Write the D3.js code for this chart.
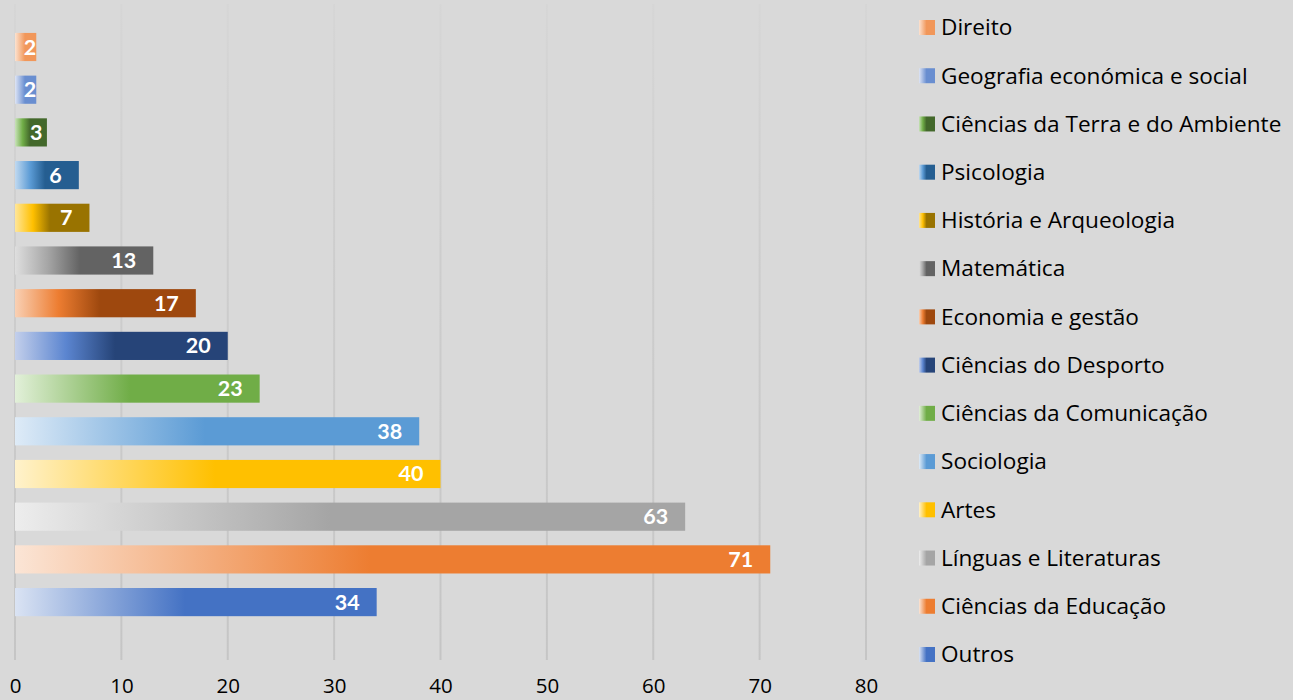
<!DOCTYPE html>
<html>
<head>
<meta charset="utf-8">
<script src="https://cdn.jsdelivr.net/npm/d3@7"></script>
<style>
  html, body { margin: 0; padding: 0; background: #d9d9d9; }
  svg { display: block; font-family: "Open Sans", Lato, sans-serif; }
</style>
</head>
<body>
<svg id="chart" width="1293" height="700"></svg>
<script>
// ---- data (bottom to top as drawn) ----
const categories = ["Outros", "Ciências da Educação", "Línguas e Literaturas", "Artes", "Sociologia",
  "Ciências da Comunicação", "Ciências do Desporto", "Economia e gestão", "Matemática",
  "História e Arqueologia", "Psicologia", "Ciências da Terra e do Ambiente",
  "Geografia económica e social", "Direito"];
const values = [34, 71, 63, 40, 38, 23, 20, 17, 13, 7, 6, 3, 2, 2];
const xTicks = [0, 10, 20, 30, 40, 50, 60, 70, 80];

// gradient stops per category: [light start, (mid accent), final colour]
const gradients = [
  ["#dae3f3", "#4472c4"],
  ["#fbe5d6", "#ed7d31"],
  ["#ededed", "#a5a5a5"],
  ["#fff2cc", "#ffc000"],
  ["#deebf7", "#5b9bd5"],
  ["#e2f0d9", "#70ad47"],
  ["#c3cfeb", "#5b85d0", "#264478"],
  ["#f9d0b4", "#ed7d31", "#9e480e"],
  ["#dedede", "#a5a5a5", "#636363"],
  ["#ffe699", "#ffc000", "#997300"],
  ["#c0d9f0", "#5b9bd5", "#255e91"],
  ["#c8e2b8", "#70ad47", "#43682b"],
  ["#dde4f5", "#698ed0"],
  ["#fce2d0", "#f1975a"]
];

const svg = d3.select("#chart");
const W = 1293, H = 700;
svg.append("rect").attr("width", W).attr("height", H).attr("fill", "#d9d9d9");

const defs = svg.append("defs");
gradients.forEach((g, i) => {
  const lg = defs.append("linearGradient").attr("id", "g" + i)
    .attr("x1", "0%").attr("x2", "100%").attr("y1", "0%").attr("y2", "0%");
  if (g.length === 2) {
    lg.append("stop").attr("offset", "0%").attr("stop-color", g[0]);
    lg.append("stop").attr("offset", "47%").attr("stop-color", g[1]);
    lg.append("stop").attr("offset", "100%").attr("stop-color", g[1]);
  } else {
    lg.append("stop").attr("offset", "0%").attr("stop-color", g[0]);
    lg.append("stop").attr("offset", "24%").attr("stop-color", g[1]);
    lg.append("stop").attr("offset", "47%").attr("stop-color", g[2]);
    lg.append("stop").attr("offset", "100%").attr("stop-color", g[2]);
  }
});
const gridGrad = defs.append("linearGradient").attr("id", "gridGrad")
  .attr("gradientUnits", "userSpaceOnUse")
  .attr("x1", 0).attr("x2", 0).attr("y1", 0).attr("y2", 660);
gridGrad.append("stop").attr("offset", "0%").attr("stop-color", "#d6d6d6");
gridGrad.append("stop").attr("offset", "40%").attr("stop-color", "#cdcdcd");
gridGrad.append("stop").attr("offset", "100%").attr("stop-color", "#c5c5c5");

const x = d3.scaleLinear().domain([0, 80]).range([15, 866]);
const y = d3.scaleBand().domain(categories.slice().reverse()).range([18.4, 630.7]).padding(0.34);

// gridlines
svg.append("g").selectAll("line").data(xTicks).join("line")
  .attr("x1", d => x(d)).attr("x2", d => x(d))
  .attr("y1", 4).attr("y2", 660)
  .attr("stroke", "url(#gridGrad)").attr("stroke-width", 2);

// bars
const data = categories.map((c, i) => ({ c, v: values[i], i }));
svg.append("g").selectAll("rect").data(data).join("rect")
  .attr("x", x(0))
  .attr("y", d => y(d.c))
  .attr("width", d => x(d.v) - x(0))
  .attr("height", y.bandwidth())
  .attr("fill", d => `url(#g${d.i})`);

// labels
svg.append("g").selectAll("text").data(data).join("text")
  .attr("x", d => {
    const w = x(d.v) - x(0);
    const gap = Math.min(17, Math.max(0, (w - 22) * 0.45));
    return x(d.v) - gap;
  })
  .attr("y", d => y(d.c) + y.bandwidth() / 2 + 7.5)
  .attr("text-anchor", "end")
  .attr("fill", "#ffffff")
  .attr("font-weight", "bold")
  .attr("font-family", "Lato, 'Open Sans', sans-serif")
  .attr("font-size", 21.5)
  .text(d => d.v);

// x axis
const ax = svg.append("g").attr("transform", "translate(0,660)")
  .call(d3.axisBottom(x).tickValues(xTicks).tickSize(0).tickPadding(18));
ax.select(".domain").remove();
ax.selectAll("text").attr("font-size", 20.5).attr("fill", "#000")
  .attr("font-family", "'Open Sans', Lato, sans-serif");

// legend (top to bottom: Direito ... Outros)
const legendItems = categories.map((c, i) => ({ c, i })).reverse();
const lg = svg.append("g").selectAll("g").data(legendItems).join("g")
  .attr("transform", (d, k) => `translate(919, ${27.5 + k * 48.23})`);
lg.append("rect").attr("x", 0).attr("y", -7.5).attr("width", 16).attr("height", 15)
  .attr("fill", d => `url(#g${d.i})`);
lg.append("text").attr("x", 22).attr("y", 7.8)
  .attr("font-size", 22.6).attr("fill", "#000").text(d => d.c);
</script>
</body>
</html>
